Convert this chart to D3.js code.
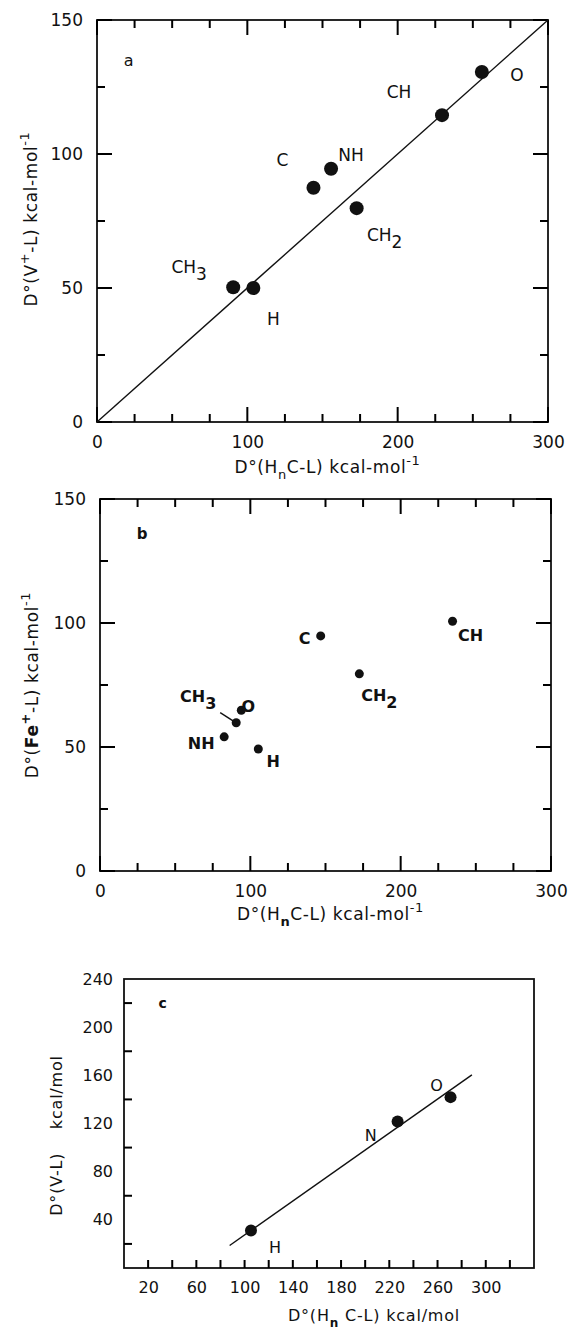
<!DOCTYPE html>
<html>
<head>
<meta charset="utf-8">
<script src="https://cdn.jsdelivr.net/npm/d3@7"></script>
<style>
  body { margin: 0; background: #fff; }
  svg text { font-family: "DejaVu Sans", "Liberation Sans", sans-serif; fill: #111; }
</style>
</head>
<body>
<svg id="chart" width="575" height="1332"></svg>
<script>
// ------------------------------
// DATA
// ------------------------------

// panel a : D(V+ - L) vs D(HnC - L)
var ligandsA = ["CH3", "H", "C", "NH", "CH2", "CH", "O"];
var hncA     = [90.6, 104, 144, 155.7, 172.7, 229.5, 256];
var vPlusA   = [50.3, 50, 87.4, 94.5, 79.8, 114.5, 130.6];
var fitA     = {x: [0, 300], y: [0, 150]};

// panel b : D(Fe+ - L) vs D(HnC - L)
var ligandsB = ["CH3", "O", "NH", "H", "C", "CH2", "CH"];
var hncB     = [90.6, 94, 82.6, 105.3, 146.8, 172.5, 234.5];
var fePlusB  = [59.8, 64.8, 54.1, 49.2, 94.8, 79.5, 100.7];

// panel c : D(V - L) vs D(HnC - L)
var ligandsC = ["H", "N", "O"];
var hncC     = [105.3, 226.9, 270.8];
var vC       = [31.1, 121.7, 141.9];
var fitC     = {x: [87.6, 288.5], y: [18.7, 160.4]};

// tick values
var majorX_ab = [0, 100, 200, 300];
var minorX_ab = [25, 50, 75, 125, 150, 175, 225, 250, 275];
var majorY_ab = [0, 50, 100, 150];
var minorY_ab = [25, 75, 125];
var labelX_c  = [20, 60, 100, 140, 180, 220, 260, 300];
var tickX_c   = [20, 40, 60, 80, 100, 120, 140, 160, 180, 200, 220, 240, 260, 280, 300, 320];
var labelY_c  = [40, 80, 120, 160, 200, 240];
var tickY_c   = [20, 60, 100, 140, 180, 220];

// ------------------------------
// LAYOUT (pixel offsets of the point labels)
// ------------------------------
var offsA = [[-44, -14], [20, 37], [-31, -22], [20, -8], [28, 33], [-43, -17], [35, 9]];
var offsB = [[-38, -21], [7, 2], [-23, 12], [15, 18], [-16, 8], [20, 27], [18, 20]];
var offsC = [[24, 22], [-27, 20], [-14, -6]];

var svg = d3.select("#chart");

// write a chemistry label, digits go to subscript
function chemText(sel, s, sub) {
    var parts = s.match(/[A-Za-z]+|\d+/g);
    parts.forEach(function (p, i) {
        if (/\d/.test(p)) sel.append("tspan").attr("dy", sub).text(p);
        else sel.append("tspan").attr("dy", i ? -sub : 0).text(p);
    });
}

// inward tick marks along one side of the frame
function tickMarks(g, scale, vals, side, len, w, h) {
    var horiz = side === "bottom" || side === "top";
    g.append("g").selectAll("line").data(vals).enter().append("line")
        .attr("x1", function (d) { return horiz ? scale(d) : (side === "left" ? 0 : w); })
        .attr("x2", function (d) { return horiz ? scale(d) : (side === "left" ? len : w - len); })
        .attr("y1", function (d) { return horiz ? (side === "bottom" ? h : 0) : scale(d); })
        .attr("y2", function (d) { return horiz ? (side === "bottom" ? h - len : len) : scale(d); })
        .attr("stroke", "#000").attr("stroke-width", 2);
}

// tick labels through d3 axes (no tick lines, those are drawn inward above)
function tickLabels(g, axis, vals, tr, size) {
    var a = g.append("g").attr("transform", tr)
        .call(axis.tickValues(vals).tickSize(0).tickPadding(10).tickFormat(d3.format("d")));
    a.select(".domain").remove();
    a.selectAll("text").attr("font-size", size).attr("fill", "#111")
        .style("font-family", "DejaVu Sans, sans-serif");
}

function frame(g, w, h) {
    g.append("rect").attr("x", 0).attr("y", 0).attr("width", w).attr("height", h)
        .attr("fill", "none").attr("stroke", "#111").attr("stroke-width", 1.8);
}

function drawPoints(g, x, y, xs, ys, names, offs, r, weight, size) {
    g.selectAll("circle.pt").data(xs).enter().append("circle")
        .attr("class", "pt")
        .attr("cx", function (d) { return x(d); })
        .attr("cy", function (d, i) { return y(ys[i]); })
        .attr("r", r).attr("fill", "#111");

    names.forEach(function (n, i) {
        var t = g.append("text")
            .attr("x", x(xs[i]) + offs[i][0])
            .attr("y", y(ys[i]) + offs[i][1])
            .attr("text-anchor", "middle")
            .attr("font-size", size)
            .attr("font-weight", weight);
        chemText(t, n, 7);
    });
}

function boxAB(g, x, y, w, h) {
    frame(g, w, h);
    ["bottom", "top"].forEach(function (s) {
        tickMarks(g, x, majorX_ab, s, 15, w, h);
        tickMarks(g, x, minorX_ab, s, 8, w, h);
    });
    ["left", "right"].forEach(function (s) {
        tickMarks(g, y, majorY_ab, s, 15, w, h);
        tickMarks(g, y, minorY_ab, s, 8, w, h);
    });
    tickLabels(g, d3.axisBottom(x), majorX_ab, "translate(0," + (h + 4) + ")", 17);
    tickLabels(g, d3.axisLeft(y), majorY_ab, "translate(-4,0)", 17);
}

// ------------------------------
// PANEL a
// ------------------------------
(function () {
    var left = 97, top = 20, w = 451, h = 402;
    var g = svg.append("g").attr("transform", "translate(" + left + "," + top + ")");
    var x = d3.scaleLinear().domain([0, 300]).range([0, w]);
    var y = d3.scaleLinear().domain([0, 150]).range([h, 0]);

    boxAB(g, x, y, w, h);

    g.append("line")
        .attr("x1", x(fitA.x[0])).attr("y1", y(fitA.y[0]))
        .attr("x2", x(fitA.x[1])).attr("y2", y(fitA.y[1]))
        .attr("stroke", "#111").attr("stroke-width", 1.4);

    drawPoints(g, x, y, hncA, vPlusA, ligandsA, offsA, 7, "normal", 17);

    g.append("text").attr("x", x(21)).attr("y", y(133)).attr("text-anchor", "middle")
        .attr("font-size", 16).text("a");

    var xt = g.append("text").attr("x", w / 2 + 5).attr("y", h + 51)
        .attr("text-anchor", "middle").attr("font-size", 17).attr("letter-spacing", 0.6);
    xt.append("tspan").text("D°(H");
    xt.append("tspan").attr("dy", 6).attr("font-size", 13).text("n");
    xt.append("tspan").attr("dy", -6).text("C-L)  kcal-mol");
    xt.append("tspan").attr("dy", -8).attr("font-size", 13).text("-1");

    var yt = g.append("text").attr("transform", "translate(-60," + (h / 2 - 2) + ") rotate(-90)")
        .attr("text-anchor", "middle").attr("font-size", 17).attr("letter-spacing", 0.6);
    yt.append("tspan").text("D°(V");
    yt.append("tspan").attr("dy", -8).attr("font-size", 13).text("+");
    yt.append("tspan").attr("dy", 8).text("-L)  kcal-mol");
    yt.append("tspan").attr("dy", -8).attr("font-size", 13).text("-1");
})();

// ------------------------------
// PANEL b
// ------------------------------
(function () {
    var left = 100, top = 499, w = 451, h = 372;
    var g = svg.append("g").attr("transform", "translate(" + left + "," + top + ")");
    var x = d3.scaleLinear().domain([0, 300]).range([0, w]);
    var y = d3.scaleLinear().domain([0, 150]).range([h, 0]);

    boxAB(g, x, y, w, h);

    // short leader from the CH3 label to its point
    g.append("line")
        .attr("x1", x(hncB[0]) - 16).attr("y1", y(fePlusB[0]) - 10)
        .attr("x2", x(hncB[0]) - 2).attr("y2", y(fePlusB[0]) - 1)
        .attr("stroke", "#111").attr("stroke-width", 1.4);

    drawPoints(g, x, y, hncB, fePlusB, ligandsB, offsB, 4.5, "bold", 16);

    g.append("text").attr("x", x(28)).attr("y", y(134)).attr("text-anchor", "middle")
        .attr("font-size", 15).attr("font-weight", "bold").text("b");

    var xt = g.append("text").attr("x", w / 2 + 5).attr("y", h + 49)
        .attr("text-anchor", "middle").attr("font-size", 17).attr("letter-spacing", 0.6);
    xt.append("tspan").text("D°(H");
    xt.append("tspan").attr("dy", 6).attr("font-size", 13).attr("font-weight", "bold").text("n");
    xt.append("tspan").attr("dy", -6).text("C-L)  kcal-mol");
    xt.append("tspan").attr("dy", -8).attr("font-size", 13).text("-1");

    var yt = g.append("text").attr("transform", "translate(-62," + (h / 2) + ") rotate(-90)")
        .attr("text-anchor", "middle").attr("font-size", 17).attr("letter-spacing", 0.6);
    yt.append("tspan").text("D°(");
    yt.append("tspan").attr("font-weight", "bold").text("Fe");
    yt.append("tspan").attr("dy", -8).attr("font-size", 13).attr("font-weight", "bold").text("+");
    yt.append("tspan").attr("dy", 8).text("-L)  kcal-mol");
    yt.append("tspan").attr("dy", -8).attr("font-size", 13).text("-1");
})();

// ------------------------------
// PANEL c
// ------------------------------
(function () {
    var left = 124, top = 979, w = 410, h = 289;
    var g = svg.append("g").attr("transform", "translate(" + left + "," + top + ")");
    var x = d3.scaleLinear().domain([0, 340]).range([0, w]);
    var y = d3.scaleLinear().domain([0, 240]).range([h, 0]);

    frame(g, w, h);
    tickMarks(g, x, tickX_c, "bottom", 8, w, h);
    tickMarks(g, y, tickY_c, "left", 8, w, h);
    tickLabels(g, d3.axisBottom(x), labelX_c, "translate(0," + (h + 4) + ")", 16);
    tickLabels(g, d3.axisLeft(y), labelY_c, "translate(-1,0)", 16);

    g.append("line")
        .attr("x1", x(fitC.x[0])).attr("y1", y(fitC.y[0]))
        .attr("x2", x(fitC.x[1])).attr("y2", y(fitC.y[1]))
        .attr("stroke", "#111").attr("stroke-width", 1.4);

    drawPoints(g, x, y, hncC, vC, ligandsC, offsC, 6, "normal", 16);

    g.append("text").attr("x", x(32)).attr("y", y(216)).attr("text-anchor", "middle")
        .attr("font-size", 14).attr("font-weight", "bold").text("c");

    var xt = g.append("text").attr("x", w / 2 + 45).attr("y", h + 53)
        .attr("text-anchor", "middle").attr("font-size", 16).attr("letter-spacing", 0.8);
    xt.append("tspan").text("D°(H");
    xt.append("tspan").attr("dy", 6).attr("font-size", 12).attr("font-weight", "bold").text("n");
    xt.append("tspan").attr("dy", -6).text(" C-L)   kcal/mol");

    var yt = g.append("text").attr("transform", "translate(-62," + (h / 2 + 12) + ") rotate(-90)")
        .attr("text-anchor", "middle").attr("font-size", 16).attr("letter-spacing", 0.8);
    yt.attr("xml:space", "preserve").text("D°(V-L)    kcal/mol");
})();
</script>
</body>
</html>
